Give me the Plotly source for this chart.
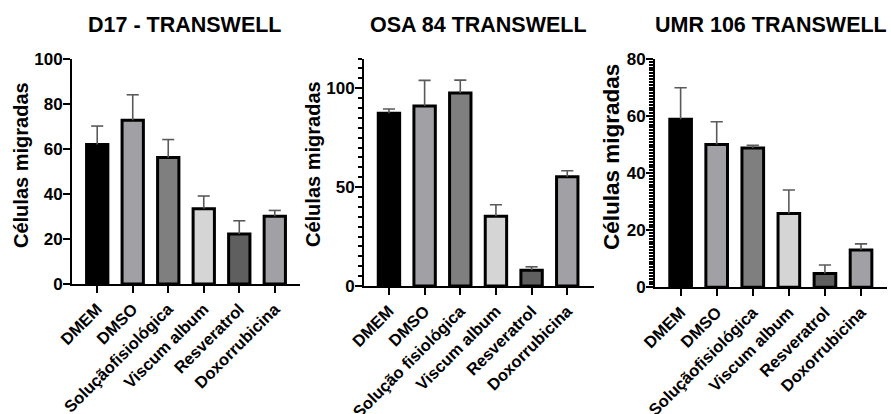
import plotly.graph_objects as go

# ---- data ----
categories_d17 = ["DMEM", "DMSO", "Soluçãofisiológica", "Viscum album", "Resveratrol", "Doxorrubicina"]
categories_osa = ["DMEM", "DMSO", "Solução fisiológica", "Viscum album", "Resveratrol", "Doxorrubicina"]
categories_umr = ["DMEM", "DMSO", "Soluçãofisiológica", "Viscum album", "Resveratrol", "Doxorrubicina"]

d17_mean = [62, 72.8, 56.2, 33.5, 22.2, 30.1]
d17_err = [8.2, 11.3, 8.0, 5.6, 5.9, 2.6]
osa_mean = [87.4, 91.0, 97.6, 35.3, 8.0, 55.2]
osa_err = [2.1, 13.0, 6.5, 5.8, 1.7, 3.1]
umr_mean = [58.9, 50.0, 48.8, 25.9, 4.8, 13.1]
umr_err = [11.0, 8.0, 1.0, 8.2, 3.0, 2.1]

titles = ["D17 - TRANSWELL", "OSA 84 TRANSWELL", "UMR 106 TRANSWELL"]
y_title = "Células migradas"
bar_colors = ["#000000", "#a1a1a5", "#7f7f80", "#d5d5d5", "#5f5f60", "#a1a1a5"]

FONT = "Liberation Sans, Arial, sans-serif"

panels = [
    dict(cats=categories_d17, mean=d17_mean, err=d17_err, ax="1",
         xdom=[72 / 891, 300 / 891], ydom=[130 / 414, 355 / 414],
         yrange=[0, 100], dtick=20, minor=None, xrange=[-0.71, 5.71]),
    dict(cats=categories_osa, mean=osa_mean, err=osa_err, ax="2",
         xdom=[364 / 891, 594 / 891], ydom=[128 / 414, 355.4 / 414],
         yrange=[0, 115], dtick=50, minor=5, xrange=[-0.70, 5.75]),
    dict(cats=categories_umr, mean=umr_mean, err=umr_err, ax="3",
         xdom=[655 / 891, 887 / 891], ydom=[126.7 / 414, 355 / 414],
         yrange=[0, 80], dtick=20, minor=1, xrange=[-0.71, 5.72]),
]

fig = go.Figure()
cap = 0.17
layout = {}
for p in panels:
    n = len(p["cats"])
    xs = list(range(n))
    xa = "x" if p["ax"] == "1" else "x" + p["ax"]
    ya = "y" if p["ax"] == "1" else "y" + p["ax"]
    # error bars (upper only, with cap)
    ex, ey = [], []
    for i, (m, e) in enumerate(zip(p["mean"], p["err"])):
        ex += [i, i, None, i - cap, i + cap, None]
        ey += [m, m + e, None, m + e, m + e, None]
    fig.add_trace(go.Scatter(x=ex, y=ey, mode="lines", xaxis=xa, yaxis=ya,
                             line=dict(color="#5a5a5a", width=1.6),
                             showlegend=False, hoverinfo="skip", cliponaxis=False))
    fig.add_trace(go.Bar(x=xs, y=p["mean"], xaxis=xa, yaxis=ya, width=0.6,
                         marker=dict(color=bar_colors, line=dict(color="#000000", width=3)),
                         showlegend=False))
    xkey = "xaxis" if p["ax"] == "1" else "xaxis" + p["ax"]
    ykey = "yaxis" if p["ax"] == "1" else "yaxis" + p["ax"]
    layout[xkey] = dict(domain=p["xdom"], anchor=ya, range=p["xrange"], automargin=False,
                        tickvals=xs, ticktext=p["cats"], tickangle=-45,
                        showline=True, linecolor="black", linewidth=2,
                        ticks="outside", ticklen=7, tickwidth=1.8, tickcolor="black",
                        showgrid=False, zeroline=False,
                        tickfont=dict(family=FONT, size=16.5, color="black", weight="bold"))
    yd = dict(domain=p["ydom"], anchor=xa, range=p["yrange"], dtick=p["dtick"], automargin=False,
              tick0=0, showline=True, linecolor="black", linewidth=2,
              ticks="outside", ticklen=7, tickwidth=2, tickcolor="black",
              showgrid=False, zeroline=False, ticklabelstandoff=-3,
              tickfont=dict(family=FONT, size=17, color="black", weight="bold"))
    if p["minor"]:
        yd["minor"] = dict(dtick=p["minor"], tick0=0, ticks="outside", ticklen=4,
                           tickwidth=1.5, tickcolor="black", showgrid=False)
    layout[ykey] = yd

fig.update_layout(**layout)

annotations = []
title_x = [185, 478, 771]
for t, xc in zip(titles, title_x):
    annotations.append(dict(text="<b>" + t + "</b>", x=xc / 891, y=(414 - 24.5) / 414,
                            xref="paper", yref="paper", showarrow=False,
                            xanchor="center", yanchor="middle",
                            font=dict(family=FONT, size=21.5, color="black")))
ytitle_pos = [(21, 165, 20), (313, 164, 20), (611, 157, 22.5)]
for (xc, yc, fs) in ytitle_pos:
    annotations.append(dict(text="<b>" + y_title + "</b>", x=xc / 891, y=(414 - yc) / 414,
                            xref="paper", yref="paper", showarrow=False, textangle=-90,
                            xanchor="center", yanchor="middle",
                            font=dict(family=FONT, size=fs, color="black")))

fig.update_layout(
    annotations=annotations,
    width=891, height=414,
    margin=dict(l=0, r=0, t=0, b=0),
    paper_bgcolor="white", plot_bgcolor="white",
    bargap=0.4,
)

fig.write_html("out.html", config={"displayModeBar": False},
               post_script="document.body.style.margin='0px';document.body.style.overflow='hidden';")
